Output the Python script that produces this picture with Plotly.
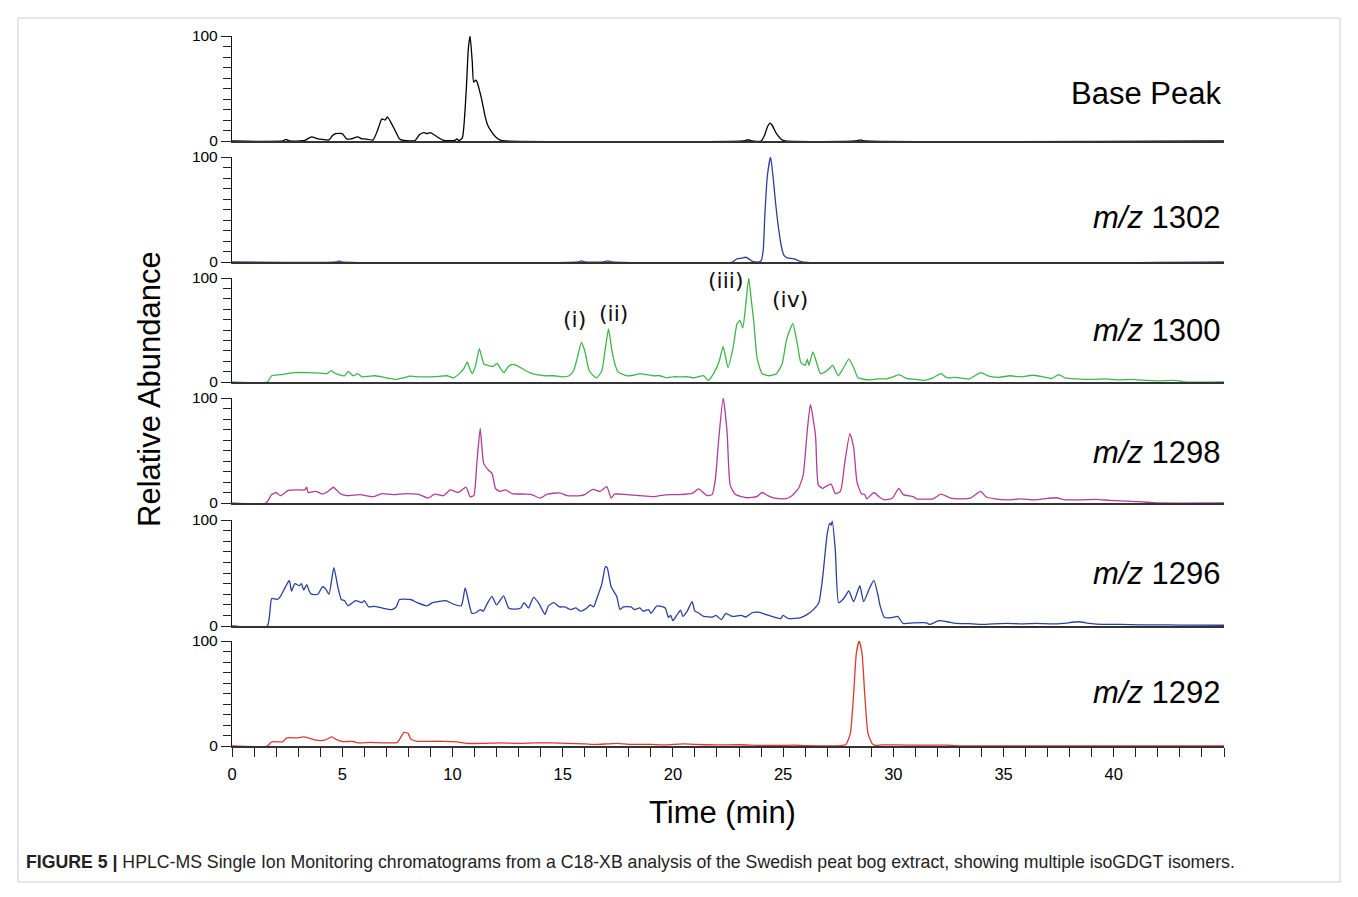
import plotly.graph_objects as go

W, H = 1358, 897
PAGE_OFFSET = 8  # the page body places the figure 8 px from the top-left corner

# ---------------- data (time in min, relative abundance in %) ----------------
base_peak = [(0,0),(2.3,0),(2.45,1.5),(2.6,0),(3.3,0.5),(3.6,4),(3.9,2),(4.1,1.5),(4.4,1),(4.55,5),(4.7,7),(5.0,7),
             (5.2,2),(5.4,2),(5.7,4),(5.9,2),(6.0,2),(6.4,1),(6.6,10),(6.8,21),(6.95,20),(7.05,23),(7.2,18),(7.4,10),
             (7.6,2),(7.8,0.5),(8.3,0.5),(8.5,6),(8.7,8),(8.85,7),(9.0,8),(9.3,4),(9.6,0.5),(10.1,0.5),(10.2,2),(10.3,0.5),
             (10.45,3),(10.63,50),(10.72,88),(10.8,100),(10.9,75),(10.96,56),(11.05,58),(11.1,57),(11.3,42),(11.5,22),
             (11.6,15),(11.8,8),(12.0,3),(12.2,0.5),(12.4,0),(23.2,0),(23.4,1.2),(23.6,0),(24.0,0),(24.15,5),(24.3,14),
             (24.4,17),(24.5,15),(24.7,7),(24.9,2),(25.1,0),(28.3,0),(28.5,1),(28.7,0),(45,0)]

mz1302 = [(0,0),(4.75,0),(4.86,1),(4.97,0),(15.7,0),(15.85,1),(16.0,0),(16.85,0),(17.05,1),(17.25,0),(22.7,0),(22.9,3),
          (23.1,3.5),(23.3,4.5),(23.45,3),(23.6,0.5),(23.9,0),(24.0,1),(24.1,12),(24.17,44),(24.28,81),(24.43,100),
          (24.55,80),(24.66,56),(24.8,31),(24.95,12),(25.05,6),(25.18,4),(25.5,3),(25.86,0),(45,0)]

mz1300 = [(0,0),(1.6,0),(1.8,6),(2.2,7),(2.8,9),(3.5,9),(4.0,8.5),(4.3,8),(4.5,11),(4.7,8),(5.1,6),(5.27,10),(5.5,6),
          (5.7,8),(5.9,5),(6.2,5.5),(6.5,6),(7.0,4),(7.47,2.5),(7.8,4),(8.07,5.6),(8.5,5),(8.97,5),(9.4,5.5),(9.75,6),
          (10.05,4),(10.36,9),(10.52,13),(10.67,19),(10.8,12),(10.9,8),(11.05,16),(11.22,32),(11.33,24),(11.43,17),
          (11.6,16),(11.85,15),(12.03,18),(12.15,14),(12.34,9),(12.5,14),(12.7,17),(12.9,16),(13.2,12.5),(13.5,9),
          (13.8,7),(14.2,6),(14.6,6),(15.0,5),(15.3,6),(15.5,11),(15.65,22),(15.85,38),(16.0,30),(16.2,11),(16.4,6),
          (16.55,4),(16.78,11),(16.92,30),(17.08,51),(17.2,35),(17.3,23),(17.5,10),(17.92,6),(18.2,6.5),(18.5,8),
          (18.8,7),(19.1,6),(19.4,6),(19.7,4),(20.0,5),(20.34,5),(20.7,5),(20.95,4),(21.4,6),(21.6,1.5),(21.87,9),
          (22.1,20),(22.28,34),(22.5,14),(22.73,33),(22.91,56),(23.04,59),(23.17,52),(23.3,73),(23.44,100),(23.55,80),
          (23.67,58),(23.82,23),(24.05,8),(24.4,6),(24.7,8),(24.95,17),(25.17,42),(25.44,56),(25.65,36),(25.8,19),
          (26.0,16),(26.1,22),(26.17,16),(26.35,29),(26.5,20),(26.7,8),(27.0,11),(27.25,16),(27.5,6),(27.7,12),
          (27.98,22),(28.2,14),(28.4,4),(28.9,2),(29.3,3),(29.7,3),(30.0,5),(30.25,7),(30.6,3.5),(31.0,2.5),(31.4,1.5),
          (31.8,4),(32.15,8),(32.45,4),(32.8,4.5),(33.45,3),(33.96,9),(34.3,6),(34.8,4.5),(35.3,6),(35.8,5),(36.3,6.5),
          (36.8,5),(37.2,3.5),(37.5,7),(37.8,4),(38.3,3),(39.0,2.5),(39.6,3),(40.2,2),(40.8,2.5),(41.5,1.5),(42.0,1),
          (42.6,1.5),(43.0,1),(43.2,0),(45,0)]

mz1298 = [(0,0),(1.55,0),(1.8,8),(2.0,10),(2.2,7),(2.55,12),(3.0,12.5),(3.3,12.5),(3.39,15),(3.45,10),(3.8,11),(4.1,8.5),
          (4.35,11),(4.6,15),(4.9,9),(5.2,7),(5.8,8),(6.4,6),(6.8,9),(7.3,8),(7.9,9),(8.5,8),(8.9,4.7),(9.2,8.5),(9.6,7),
          (9.9,12.5),(10.25,10),(10.62,15),(10.8,6),(10.97,7),(11.1,36),(11.26,71),(11.42,37.5),(11.65,31),(11.8,28),
          (11.95,14),(12.15,11),(12.4,12.5),(12.7,9),(13.3,8.5),(13.6,8),(13.98,4.7),(14.3,8.5),(14.9,9.5),(15.2,7),
          (15.8,7),(16.0,8),(16.2,11),(16.4,13),(16.7,11),(17.0,15.6),(17.2,4.7),(17.35,8.4),(17.9,8),(18.5,7),(19.1,6),
          (19.4,7),(19.9,8),(20.3,8),(20.9,9.4),(21.17,13.4),(21.55,7),(21.78,8),(21.93,23),(22.08,61),(22.28,100),
          (22.46,67),(22.6,17),(22.84,8),(23.37,5),(23.8,6),(24.05,10),(24.3,7),(24.6,4.7),(25.1,4),(25.4,7),(25.7,14),
          (25.91,26.5),(26.1,70),(26.24,94),(26.47,64),(26.6,17),(26.8,14),(27.0,16.5),(27.18,18),(27.37,9),(27.6,11),
          (27.8,39),(28.03,66),(28.2,53),(28.35,20),(28.55,9),(28.7,8),(28.8,4),(29.12,10),(29.35,6),(29.6,3),
          (29.95,4.5),(30.25,14),(30.45,8),(30.9,6),(31.05,4),(31.8,4),(32.15,8.4),(32.45,6),(32.6,4.7),(33.05,4),
          (33.5,4.7),(33.96,11),(34.2,6),(34.6,4),(35.2,3),(35.8,4),(36.4,3),(37.0,4.5),(37.4,5),(37.8,3),(38.5,3),
          (39.2,3.5),(39.8,2.5),(40.3,2),(40.8,1.5),(41.3,1),(42,0),(45,0)]

mz1296 = [(0,0),(1.6,0),(1.8,26),(2.05,25),(2.2,28),(2.4,36),(2.6,43),(2.7,33),(2.85,40),(3.05,38),(3.15,40),(3.25,34),
          (3.39,39),(3.5,33),(3.6,30),(3.9,30),(4.1,37),(4.25,35),(4.4,30),(4.62,55),(4.8,37),(4.96,25),(5.1,24),
          (5.26,19),(5.6,24),(5.9,22),(6.0,24),(6.2,18),(6.45,18.5),(6.8,17),(7.25,15.5),(7.45,18),(7.6,25),(8.1,25),
          (8.4,22),(8.84,19),(9.1,22),(9.7,24),(10.0,21),(10.4,19),(10.58,36),(10.88,12),(11.1,13),(11.26,15.5),
          (11.4,14),(11.55,20),(11.79,28),(12.0,20),(12.32,28.5),(12.55,17),(12.8,16),(13.1,17),(13.25,22),(13.45,17),
          (13.68,27),(13.9,22),(14.2,11),(14.35,19),(14.6,22),(14.85,18),(15.1,18),(15.35,15.5),(15.6,17),(15.8,14),
          (16.1,17),(16.25,20),(16.4,18),(16.55,26),(16.78,40),(16.94,56),(17.02,55),(17.2,37),(17.45,28),(17.6,15.5),
          (17.75,18),(18.1,18),(18.25,15.5),(18.5,17),(18.65,14),(18.9,15.5),(19.0,12),(19.28,19),(19.65,17),(19.8,8),
          (19.9,10),(20.0,5),(20.2,11),(20.35,15),(20.45,9),(20.65,14),(20.87,23),(21.0,14),(21.15,12.5),(21.4,9),
          (21.8,8.5),(21.95,10),(22.2,6),(22.4,12),(22.7,9),(23.1,10),(23.3,8.5),(23.6,12.5),(23.9,13),(24.2,11),
          (24.5,9),(24.9,7),(25.0,10),(25.25,7),(25.8,8),(26.1,11),(26.35,15),(26.62,22),(26.8,47),(27.0,87),(27.12,97),
          (27.18,95),(27.23,99),(27.37,71),(27.52,22),(27.75,26),(27.98,33),(28.2,23),(28.48,38),(28.65,23),(28.95,37),
          (29.12,43),(29.3,29.5),(29.4,19),(29.6,8),(29.95,8),(30.2,9),(30.44,2.5),(30.9,3),(31.5,3),(31.65,1.5),
          (32.07,5),(32.45,4),(32.85,2.5),(33.4,2.2),(33.96,1.5),(34.5,2),(35.2,2.5),(35.8,2),(36.5,2.5),(37.2,2),
          (37.7,2.5),(38.4,4),(38.9,2.5),(39.5,1.5),(40.3,1.5),(41.2,1),(42.5,1),(43.5,0.8),(45,0.7)]

mz1292 = [(0,0),(1.6,0),(1.8,4),(2.3,4),(2.48,7.7),(3.0,7.7),(3.24,8.6),(3.5,7.5),(3.8,5.5),(4.2,5.5),(4.52,8.6),
          (4.75,6),(5.0,4.3),(5.5,4.3),(5.7,3),(6.3,3.5),(6.9,3),(7.5,3.5),(7.8,13),(8.0,11.7),(8.1,6.8),(8.4,4.5),
          (9.0,4.5),(9.6,4.5),(10.2,4),(10.65,2.5),(11.4,2.5),(12.2,3),(13.0,2.5),(13.7,3),(14.5,3),(15.2,2.5),(16.0,2),
          (16.5,1.5),(17.0,2),(17.5,2.5),(18.0,1.5),(19.0,1.5),(19.5,1),(20.0,1.5),(20.5,2),(21.0,1.5),(22.0,1),
          (23.0,1.2),(24.0,0.5),(25.0,0.5),(25.5,0.8),(26.0,0.4),(27.6,0.4),(27.85,1.5),(28.05,12),(28.2,50),
          (28.32,88),(28.45,100),(28.58,88),(28.7,50),(28.85,12),(29.05,2),(29.2,0.5),(29.5,1),(30.2,1),(31.0,0.8),
          (31.7,0.8),(32.4,0.8),(33.0,0),(45,0)]

trace_labels = ["Base Peak", "<i>m/z</i> 1302", "<i>m/z</i> 1300", "<i>m/z</i> 1298", "<i>m/z</i> 1296", "<i>m/z</i> 1292"]
trace_colors = ["#000000", "#2e3d9c", "#3db54a", "#b03c9c", "#2a3f9e", "#e0392b"]
peak_labels = ["(i)", "(ii)", "(iii)", "(iv)"]
peak_label_x = [15.53, 17.3, 22.43, 25.33]
peak_label_y = [60.5, 66, 98, 79]
x_tick_vals = [0, 5, 10, 15, 20, 25, 30, 35, 40]

series = [base_peak, mz1302, mz1300, mz1298, mz1296, mz1292]

# ---------------- layout geometry (page pixel positions of 0 and 100 for each panel) ----------------
panel_px = [(141, 36), (262, 157), (382, 278), (503, 398), (626, 520), (746, 641)]
x_left, x_right = 232, 1224


def px(xp):
    return (xp - PAGE_OFFSET) / W


def py(yp):
    return 1 - (yp - PAGE_OFFSET) / H


fig = go.Figure()
layout = dict(width=W, height=H, margin=dict(l=0, r=0, t=0, b=0, pad=0, autoexpand=False),
              template="none",
              paper_bgcolor="white", plot_bgcolor="rgba(0,0,0,0)", showlegend=False,
              font=dict(family="Liberation Sans, Arial, sans-serif", color="black"))

tick_font = dict(family="Liberation Sans, Arial", size=15.5, color="black")

for k, (data, col) in enumerate(zip(series, trace_colors), start=1):
    t = [p[0] for p in data]
    v = [p[1] for p in data]
    fig.add_trace(go.Scatter(x=t, y=v, mode="lines",
                             line=dict(color=col, width=1.3, shape="spline", smoothing=0.5),
                             xaxis=f"x{k}", yaxis=f"y{k}", hoverinfo="skip"))
    y0, y100 = panel_px[k - 1]
    xa = dict(domain=[px(x_left), px(x_right)], range=[0, 45], anchor=f"y{k}", automargin=False,
              showline=True, linecolor="#333333", linewidth=2, layer="below traces",
              showgrid=False, zeroline=False)
    if k > 1:
        xa["matches"] = "x"
    if k == 6:
        xa.update(ticks="outside", ticklen=9, tickwidth=1.2, tickcolor="#222",
                  tickvals=x_tick_vals, ticktext=[str(v) for v in x_tick_vals],
                  tickfont=dict(family="Liberation Sans, Arial", size=16.5, color="black"), ticklabelstandoff=3,
                  minor=dict(dtick=1, tick0=0, ticks="outside", ticklen=9, tickwidth=1.2, tickcolor="#222"))
    else:
        xa.update(ticks="", showticklabels=False)
    ya = dict(domain=[py(y0), py(y100)], range=[0, 100], anchor=f"x{k}", automargin=False,
              showline=True, linecolor="#111", linewidth=1.3, showgrid=False, zeroline=False,
              ticks="outside", ticklen=10, tickwidth=1.2, tickcolor="#222",
              tickvals=[0, 100], ticktext=["0", "100"], tickfont=tick_font, ticklabelstandoff=0,
              minor=dict(tickvals=list(range(10, 100, 10)), ticks="outside", ticklen=8, tickwidth=1.2, tickcolor="#222"))
    layout[f"xaxis{'' if k == 1 else k}"] = xa
    layout[f"yaxis{'' if k == 1 else k}"] = ya

annotations = []
label_y_px = [94, 217, 330, 453, 573, 692]
for lab, ypx in zip(trace_labels, label_y_px):
    annotations.append(dict(text=lab, x=px(1223), y=py(ypx), xref="paper", yref="paper",
                            xanchor="right", yanchor="middle", showarrow=False,
                            font=dict(size=31, color="black", family="Liberation Sans, Arial")))
for lab, lx, ly in zip(peak_labels, peak_label_x, peak_label_y):
    annotations.append(dict(text=lab, x=lx, y=ly, xref="x3", yref="y3", xanchor="center", yanchor="middle",
                            showarrow=False, font=dict(size=22, color="#111", family="DejaVu Sans")))
annotations.append(dict(text="Relative Abundance", x=px(150), y=py(389), xref="paper", yref="paper",
                        textangle=-90, xanchor="center", yanchor="middle", showarrow=False,
                        font=dict(size=31, color="black")))
annotations.append(dict(text="Time (min)", x=px(722), y=py(812), xref="paper", yref="paper",
                        xanchor="center", yanchor="middle", showarrow=False, font=dict(size=31, color="black")))
annotations.append(dict(text="<b>FIGURE 5 |</b> HPLC-MS Single Ion Monitoring chromatograms from a C18-XB analysis of the "
                             "Swedish peat bog extract, showing multiple isoGDGT isomers.",
                        x=px(24), y=py(862), xref="paper", yref="paper", xanchor="left", yanchor="middle",
                        showarrow=False, font=dict(size=17.7, color="#222")))
layout["annotations"] = annotations
layout["shapes"] = [dict(type="rect", xref="paper", yref="paper", x0=px(18), x1=px(1340), y0=py(882), y1=py(18),
                         line=dict(color="#cccccc", width=1), fillcolor="rgba(0,0,0,0)", layer="below")]

fig.update_layout(**layout)
fig.write_html("out.html")
